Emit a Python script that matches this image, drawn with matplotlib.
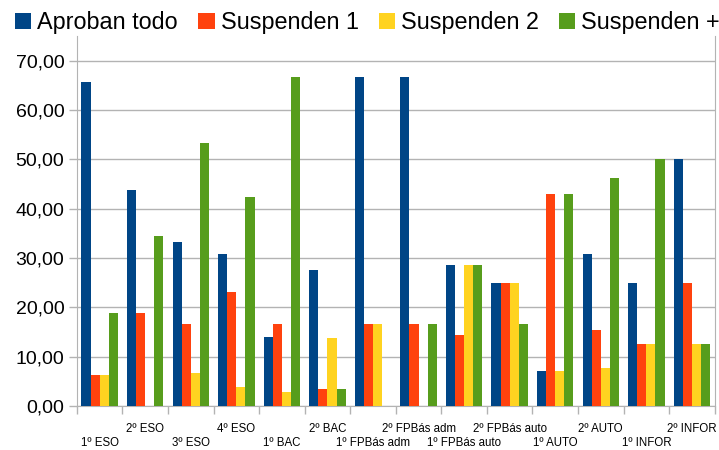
import matplotlib
matplotlib.use("Agg")
import matplotlib.pyplot as plt
import numpy as np
from matplotlib.patches import Patch
from matplotlib.ticker import FuncFormatter, FixedLocator, NullFormatter

# === DATA ===
categories = ["1º ESO", "2º ESO", "3º ESO", "4º ESO", "1º BAC", "2º BAC",
              "1º FPBás adm", "2º FPBás adm", "1º FPBás auto", "2º FPBás auto",
              "1º AUTO", "2º AUTO", "1º INFOR", "2º INFOR"]
aprueban_todo = [65.7, 43.75, 33.3, 30.8, 13.9, 27.6, 66.7, 66.7, 28.6, 25.0, 7.1, 30.8, 25.0, 50.0]
suspenden_1 = [6.25, 18.75, 16.7, 23.1, 16.7, 3.45, 16.7, 16.7, 14.3, 25.0, 42.9, 15.4, 12.5, 25.0]
suspenden_2 = [6.25, 0.0, 6.7, 3.85, 2.8, 13.8, 16.7, 0.0, 28.6, 25.0, 7.1, 7.7, 12.5, 12.5]
suspenden_mas = [18.75, 34.4, 53.3, 42.3, 66.7, 3.45, 0.0, 16.7, 28.6, 16.7, 42.9, 46.2, 50.0, 12.5]
series_names = ["Aproban todo", "Suspenden 1", "Suspenden 2", "Suspenden +"]

colors = ["#004586", "#ff420e", "#ffd320", "#579d1c"]
grid_color = "#b3b3b3"

plt.rcParams['font.family'] = ['Liberation Sans', 'DejaVu Sans']

fig = plt.figure(figsize=(7.19, 4.5), dpi=100)
ax = fig.add_axes([0.107, 0.098, 0.887, 0.822])

x = np.arange(len(categories))
width = 0.2
all_series = [aprueban_todo, suspenden_1, suspenden_2, suspenden_mas]
for i, vals in enumerate(all_series):
    ax.bar(x + (i - 1.5) * width, vals, width, color=colors[i], zorder=3)

ax.set_xlim(-0.5, len(categories) - 0.5)
ax.set_ylim(0, 75)
ax.set_yticks(np.arange(0, 71, 10))
ax.yaxis.set_major_formatter(FuncFormatter(lambda v, p: f"{v:.2f}".replace('.', ',')))
ax.yaxis.grid(True, color=grid_color, linewidth=1, zorder=0)
ax.tick_params(axis='y', labelsize=14, length=6, width=1, color=grid_color, pad=3)

# staggered category labels (even index on the lower row)
ax.set_xticks(x)
ax.xaxis.set_major_formatter(NullFormatter())
ax.tick_params(axis='x', which='major', length=0)
trans = ax.get_xaxis_transform()
for i, c in enumerate(categories):
    off = -37 if i % 2 == 0 else -23
    ax.annotate(c, xy=(x[i], 0), xycoords=trans, xytext=(0, off),
                textcoords='offset pixels', ha='center', va='center',
                fontsize=8.3, annotation_clip=False)
ax.xaxis.set_minor_locator(FixedLocator(np.arange(-0.5, len(categories), 1.0)))
ax.tick_params(axis='x', which='minor', length=6, width=1, color=grid_color)

for s in ['left', 'bottom', 'right']:
    ax.spines[s].set_color(grid_color)
ax.spines['top'].set_visible(False)

handles = [Patch(facecolor=colors[i], label=series_names[i]) for i in range(4)]
fig.legend(handles=handles, loc='center left', bbox_to_anchor=(0.021, 0.949),
           ncol=4, frameon=False, fontsize=16.8, handlelength=0.7, handleheight=0.7,
           handletextpad=0.26, columnspacing=0.86, borderpad=0, borderaxespad=0)

fig.savefig("out.png", dpi=100, facecolor="white")
